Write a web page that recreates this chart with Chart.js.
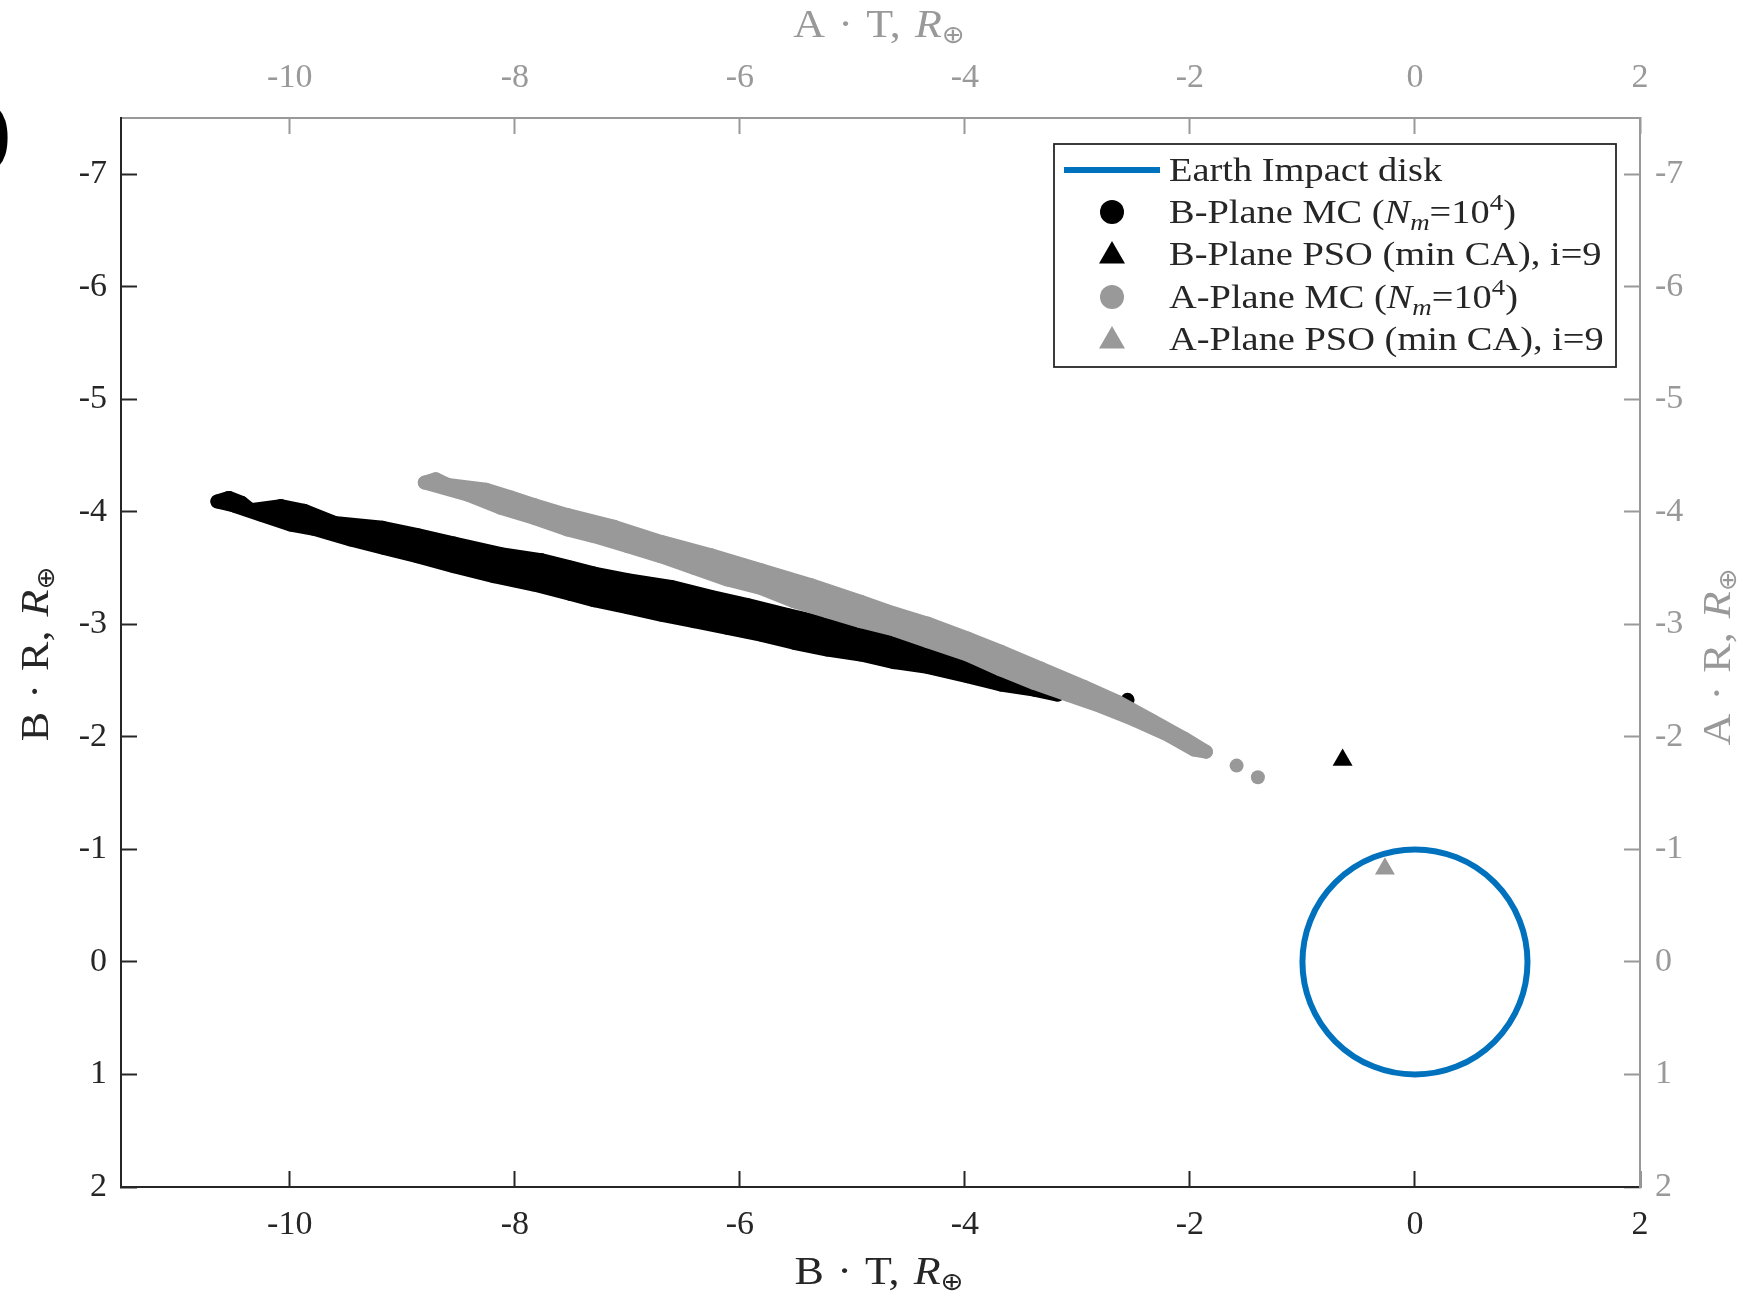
<!DOCTYPE html>
<html>
<head>
<meta charset="utf-8">
<title>B-Plane / A-Plane</title>
<script src="https://cdn.jsdelivr.net/npm/chart.js@4.4.1/dist/chart.umd.min.js"></script>
<style>
  html, body { margin: 0; padding: 0; background: #fff; }
  #wrap { width: 1750px; height: 1298px; }
</style>
</head>
<body>
<div id="wrap"><canvas id="plane" width="1750" height="1298"></canvas></div>
<script>
// ticks (both axes pairs share the same values)
const xTicks = [-10, -8, -6, -4, -2, 0, 2];
const yTicks = [-7, -6, -5, -4, -3, -2, -1, 0, 1, 2];

// Earth impact disk: centre and radius, R_earth
const earthCenter = [[0, 0]];
const earthRadius = 1;

// B-Plane MC cloud: upper edge, lower edge, stray samples
const bTop = [[-10.643, -4.092], [-10.542, -4.124], [-10.429, -4.08], [-10.347, -4.015], [-10.08, -4.051],
  [-9.873, -4.009], [-9.606, -3.902], [-9.176, -3.858], [-8.865, -3.793], [-8.54, -3.718], [-8.124, -3.624],
  [-7.769, -3.571], [-7.502, -3.504], [-7.295, -3.452], [-6.998, -3.393], [-6.613, -3.333], [-6.258, -3.244],
  [-5.932, -3.171], [-5.576, -3.082], [-4.924, -2.933], [-4.302, -2.773], [-3.68, -2.604], [-3.147, -2.4]];
const bBottom = [[-10.495, -4.056], [-10.258, -3.976], [-9.991, -3.887], [-9.784, -3.849], [-9.458, -3.754],
  [-9.162, -3.68], [-8.865, -3.606], [-8.54, -3.517], [-8.184, -3.428], [-7.828, -3.354], [-7.502, -3.27],
  [-7.295, -3.215], [-6.998, -3.153], [-6.702, -3.087], [-6.406, -3.028], [-6.109, -2.969], [-5.813, -2.909],
  [-5.517, -2.836], [-5.221, -2.776], [-4.924, -2.732], [-4.628, -2.664], [-4.332, -2.622], [-3.976, -2.54],
  [-3.68, -2.465], [-3.384, -2.42], [-3.176, -2.376]];
const bLoose = [[-2.554, -2.329]];

// A-Plane MC cloud
const aTop = [[-8.8, -4.26], [-8.702, -4.29], [-8.598, -4.24], [-8.258, -4.196], [-8.036, -4.127],
  [-7.828, -4.06], [-7.532, -3.971], [-7.117, -3.867], [-6.702, -3.733], [-6.258, -3.615], [-5.813, -3.482],
  [-5.369, -3.348], [-4.924, -3.2], [-4.628, -3.096], [-4.332, -3.007], [-3.976, -2.874], [-3.68, -2.756],
  [-3.324, -2.607], [-2.94, -2.444], [-2.643, -2.311], [-2.347, -2.148], [-2.051, -1.985], [-1.858, -1.869]];
const aBottom = [[-8.42, -4.154], [-8.124, -4.036], [-7.828, -3.947], [-7.532, -3.843], [-7.295, -3.784],
  [-6.998, -3.695], [-6.702, -3.606], [-6.406, -3.502], [-6.109, -3.398], [-5.813, -3.324], [-5.517, -3.206],
  [-5.221, -3.117], [-4.924, -3.028], [-4.628, -2.954], [-4.332, -2.851], [-3.976, -2.732], [-3.68, -2.598],
  [-3.384, -2.48], [-3.087, -2.376], [-2.791, -2.273], [-2.495, -2.154], [-2.198, -2.02], [-1.962, -1.887]];
const aLoose = [[-1.585, -1.745], [-1.396, -1.642]];

// PSO solutions (min CA), i=9
const bPso = [[-0.643, -1.795]];
const aPso = [[-0.267, -0.828]];

const legendRows = [
  [{ t: 'Earth Impact disk' }],
  [{ t: 'B-Plane MC (' }, { t: 'N', it: true }, { t: 'm', it: true, sub: true }, { t: '=10' }, { t: '4', sup: true }, { t: ')' }],
  [{ t: 'B-Plane PSO (min CA), i=9' }],
  [{ t: 'A-Plane MC (' }, { t: 'N', it: true }, { t: 'm', it: true, sub: true }, { t: '=10' }, { t: '4', sup: true }, { t: ')' }],
  [{ t: 'A-Plane PSO (min CA), i=9' }]
];
const axisTitle = (a, b) => [{ t: a }, { gap: 0.3 }, { t: '·' }, { gap: 0.3 }, { t: b + ',' }, { gap: 0.32 },
  { t: 'R', it: true }, { t: '⊕', earth: true }];
const titleBT = axisTitle('B', 'T');
const titleAT = axisTitle('A', 'T');
const titleBR = axisTitle('B', 'R');
const titleAR = axisTitle('A', 'R');

const DARK = '#262626';
const GREY = '#999999';
const BLUE = '#0072BD';
const SERIF = '"Liberation Serif", "Times New Roman", serif';

const toXY = arr => arr.map(p => ({ x: p[0], y: p[1] }));
const outline = (top, bottom) => toXY(top.concat(bottom.slice().reverse(), [top[0]]));

function partFont(p, size) {
  if (p.earth) return (size * 0.62).toFixed(1) + 'px "DejaVu Sans", sans-serif';
  const s = (p.sub || p.sup) ? size * 0.7 : size;
  return (p.it ? 'italic ' : '') + s.toFixed(1) + 'px ' + SERIF;
}

function partWidth(ctx, p, size) {
  if (p.gap) return p.gap * size;
  ctx.font = partFont(p, size);
  return ctx.measureText(p.t).width;
}

function drawRich(ctx, parts, x, y, size, color, sx, align, angle) {
  ctx.save();
  ctx.translate(x, y);
  if (angle) ctx.rotate(angle);
  ctx.scale(sx, 1);
  let w = 0;
  parts.forEach(p => { w += partWidth(ctx, p, size); });
  let cx = align === 'center' ? -w / 2 : 0;
  ctx.fillStyle = color;
  ctx.textAlign = 'left';
  ctx.textBaseline = 'alphabetic';
  parts.forEach(p => {
    if (!p.gap) {
      ctx.font = partFont(p, size);
      let dy = 0;
      if (p.earth) dy = size * 0.16;
      else if (p.sub) dy = size * 0.22;
      else if (p.sup) dy = -size * 0.38;
      ctx.fillText(p.t, cx, dy);
    }
    cx += partWidth(ctx, p, size);
  });
  ctx.restore();
}

function marker(ctx, style, x, y, r, color) {
  ctx.save();
  ctx.fillStyle = color;
  ctx.beginPath();
  if (style === 'circle') {
    ctx.arc(x, y, r, 0, Math.PI * 2);
  } else {
    ctx.moveTo(x, y - r);
    ctx.lineTo(x + r * 0.866, y + r * 0.5);
    ctx.lineTo(x - r * 0.866, y + r * 0.5);
    ctx.closePath();
  }
  ctx.fill();
  ctx.restore();
}

const decor = {
  id: 'decor',
  afterDraw(chart) {
    const ctx = chart.ctx;
    // axis titles
    drawRich(ctx, titleBT, 879, 1284, 40, DARK, 1.1, 'center');
    drawRich(ctx, titleAT, 879, 37, 40, GREY, 1.1, 'center');
    drawRich(ctx, titleBR, 48, 654, 40, DARK, 1.1, 'center', -Math.PI / 2);
    drawRich(ctx, titleAR, 1730, 657, 40, GREY, 1.1, 'center', -Math.PI / 2);

    // legend box
    const L = 1054, T = 144, R = 1616, B = 367;
    ctx.save();
    ctx.fillStyle = '#fff';
    ctx.fillRect(L, T, R - L, B - T);
    ctx.strokeStyle = DARK;
    ctx.lineWidth = 1.8;
    ctx.strokeRect(L, T, R - L, B - T);
    ctx.strokeStyle = BLUE;
    ctx.lineWidth = 6;
    ctx.beginPath();
    ctx.moveTo(1064, 170);
    ctx.lineTo(1160, 170);
    ctx.stroke();
    ctx.restore();
    const rowY = [170, 212, 254, 297, 339];
    marker(ctx, 'circle', 1112, rowY[1], 12, '#000');
    marker(ctx, 'triangle', 1112, rowY[2] + 2, 15, '#000');
    marker(ctx, 'circle', 1112, rowY[3], 12, GREY);
    marker(ctx, 'triangle', 1112, rowY[4] + 2, 15, GREY);
    legendRows.forEach((parts, i) => drawRich(ctx, parts, 1169, rowY[i] + 11, 34, DARK, 1.13, 'left'));

    // clipped panel label at the left edge
    ctx.save();
    ctx.fillStyle = '#000';
    ctx.font = 'bold 85px ' + SERIF;
    ctx.textBaseline = 'alphabetic';
    ctx.fillText(')', -17, 158);
    ctx.restore();
  }
};

function axis(position, color, pad, fit) {
  const horizontal = position === 'top' || position === 'bottom';
  return {
    type: 'linear',
    position,
    min: horizontal ? -11.5 : -7.5,
    max: 2,
    reverse: !horizontal,
    afterBuildTicks: s => { s.ticks = (horizontal ? xTicks : yTicks).map(v => ({ value: v })); },
    afterFit: s => { if (horizontal) s.height = fit; else s.width = fit; },
    grid: { drawOnChartArea: false, drawTicks: true, tickLength: -16, tickColor: color, tickWidth: 2 },
    border: { display: true, color, width: 2 },
    ticks: {
      padding: pad, color, autoSkip: false, maxRotation: 0,
      font: { family: SERIF, size: 34 },
      callback: v => String(v)
    }
  };
}

new Chart(document.getElementById('plane'), {
  type: 'scatter',
  data: {
    datasets: [
      {
        label: 'Earth Impact disk', data: toXY(earthCenter), order: 7,
        pointStyle: 'circle', backgroundColor: 'rgba(0,0,0,0)', borderColor: BLUE, borderWidth: 6,
        pointRadius: c => {
          const s = c.chart.scales.x;
          return Math.abs(s.getPixelForValue(earthRadius) - s.getPixelForValue(0));
        }
      },
      {
        label: 'B-Plane MC band', data: outline(bTop, bBottom), order: 6,
        showLine: true, fill: 'shape', tension: 0, pointRadius: 0,
        borderColor: '#000', backgroundColor: '#000', borderWidth: 14,
        borderJoinStyle: 'round', borderCapStyle: 'round'
      },
      {
        label: 'B-Plane MC', data: toXY(bTop.concat(bBottom, bLoose)), order: 5,
        pointStyle: 'circle', pointRadius: 7, backgroundColor: '#000', borderWidth: 0
      },
      {
        label: 'A-Plane MC band', data: outline(aTop, aBottom), order: 4,
        showLine: true, fill: 'shape', tension: 0, pointRadius: 0,
        borderColor: GREY, backgroundColor: GREY, borderWidth: 14,
        borderJoinStyle: 'round', borderCapStyle: 'round'
      },
      {
        label: 'A-Plane MC', data: toXY(aTop.concat(aBottom, aLoose)), order: 3,
        pointStyle: 'circle', pointRadius: 7, backgroundColor: GREY, borderWidth: 0
      },
      {
        label: 'B-Plane PSO (min CA), i=9', data: toXY(bPso), order: 2,
        pointStyle: 'triangle', pointRadius: 11.5, backgroundColor: '#000', borderWidth: 0
      },
      {
        label: 'A-Plane PSO (min CA), i=9', data: toXY(aPso), order: 1,
        pointStyle: 'triangle', pointRadius: 11.5, backgroundColor: GREY, borderWidth: 0
      }
    ]
  },
  options: {
    responsive: false,
    animation: false,
    events: [],
    layout: { padding: 0 },
    plugins: { legend: { display: false }, tooltip: { enabled: false } },
    scales: {
      x: axis('bottom', DARK, 34, 111),
      x2: axis('top', GREY, 36, 118),
      y: axis('left', DARK, 30, 121),
      y2: axis('right', GREY, 31, 110)
    }
  },
  plugins: [decor]
});
</script>
</body>
</html>
